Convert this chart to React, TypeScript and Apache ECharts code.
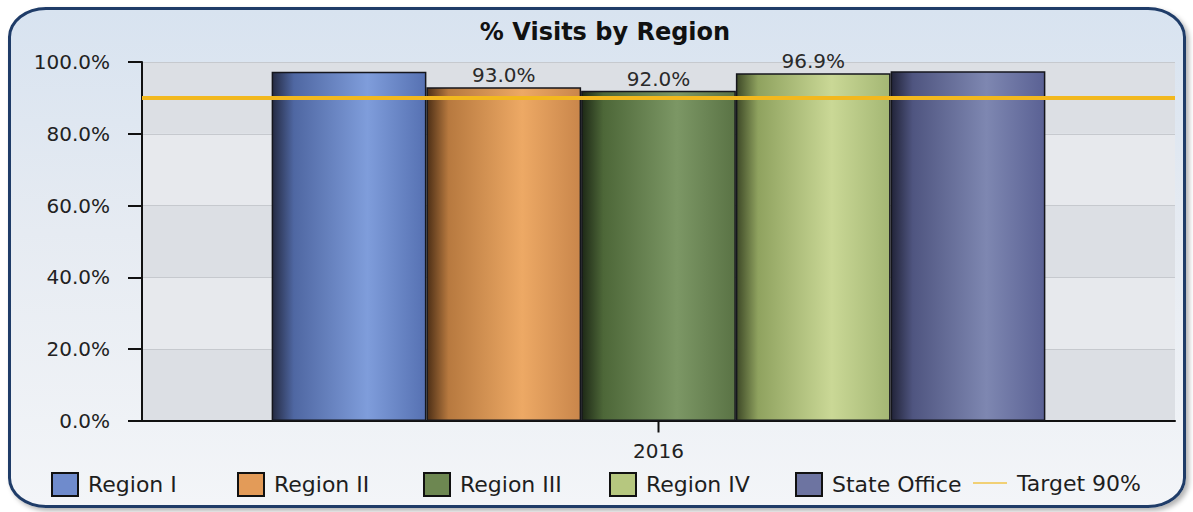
import React, { useEffect, useRef } from "react";
import * as echarts from "echarts";

// Chart data
const chartTitle = "% Visits by Region";
const categories = ["2016"];
const seriesNames = ["Region I", "Region II", "Region III", "Region IV", "State Office"];
const seriesValues = [97.3, 93.0, 92.0, 96.9, 97.4];
const labelledSeries = ["Region II", "Region III", "Region IV"];
const targetName = "Target 90%";
const targetValue = 90;
const yMin = 0;
const yMax = 100;
const yStep = 20;

// Cylinder-like shading per series: dark left edge, highlight right of centre
const palettes = [
  { dark: "#252b43", mid: "#4f67a2", light: "#7f9ddb", edge: "#5671b2", flat: "#6f8bcc" },
  { dark: "#4d2f16", mid: "#b7793f", light: "#eda965", edge: "#c9864b", flat: "#e39b58" },
  { dark: "#1e2916", mid: "#4d6738", light: "#7c9765", edge: "#5a7345", flat: "#6d8751" },
  { dark: "#3e4927", mid: "#8fa25f", light: "#cad896", edge: "#a4b774", flat: "#b6c77f" },
  { dark: "#222439", mid: "#4f5580", light: "#7e87b1", edge: "#5a6194", flat: "#6d74a1" },
];

const FONT = "DejaVu Sans";

function barGradient(p: { dark: string; mid: string; light: string; edge: string }) {
  return new echarts.graphic.LinearGradient(0, 0, 1, 0, [
    { offset: 0, color: p.dark },
    { offset: 0.14, color: p.mid },
    { offset: 0.62, color: p.light },
    { offset: 1, color: p.edge },
  ]);
}

export default function App() {
  const ref = useRef<HTMLDivElement>(null);

  useEffect(() => {
    document.body.style.margin = "0";
    if (!ref.current) return;
    const chart = echarts.init(ref.current, undefined, { renderer: "svg" });

    const barSeries = seriesNames.map((name, i) => ({
      name,
      type: "bar",
      data: [seriesValues[i]],
      barGap: "0%",
      barCategoryGap: "25.1%",
      itemStyle: {
        color: barGradient(palettes[i]),
        borderColor: "#15161c",
        borderWidth: 1.5,
      },
      label: {
        show: labelledSeries.includes(name),
        position: "top",
        distance: 2,
        formatter: (p: any) => `${Number(p.value).toFixed(1)}%`,
        fontFamily: FONT,
        fontSize: 20,
        color: "#2a2a2a",
      },
      z: 2,
    }));

    const targetSeries = {
      name: targetName,
      type: "line",
      data: [],
      symbol: "none",
      color: "#f3c546",
      lineStyle: { color: "#f3c546", width: 2 },
      z: 5,
      markLine: {
        silent: true,
        symbol: ["none", "none"],
        label: { show: false },
        lineStyle: { color: "#f2b81e", width: 4, type: "solid" },
        data: [{ yAxis: targetValue }],
      },
      // tick mark below the category centre on the x axis line
      markPoint: {
        silent: true,
        symbol: "rect",
        symbolSize: [2, 11],
        symbolOffset: [0, 6],
        itemStyle: { color: "#111" },
        label: { show: false },
        data: [{ coord: [categories[0], yMin] }],
      },
    };

    // One legend box per item, laid out on an even column pitch
    const firstTextX = 87;
    const pitch = 186;
    const legends: any[] = seriesNames.map((name, i) => ({
      data: [
        {
          name,
          icon: "rect",
          itemStyle: { color: palettes[i].flat, borderColor: "#111", borderWidth: 2 },
        },
      ],
      left: firstTextX + i * pitch - 36,
      top: 472,
      itemWidth: 26,
      itemHeight: 23,
      padding: 0,
      textStyle: { fontFamily: FONT, fontSize: 22, color: "#1e1e1e", padding: [0, 0, 0, 5] },
    }));
    legends.push({
      data: [{ name: targetName, icon: "path://M0,0H20V1H0Z", itemStyle: { color: "#f0c44a" } }],
      left: firstTextX + seriesNames.length * pitch - 44,
      top: 472,
      itemWidth: 34,
      itemHeight: 23,
      padding: 0,
      textStyle: { fontFamily: FONT, fontSize: 22, color: "#1e1e1e", padding: [0, 0, 0, 5] },
    });

    chart.setOption({
      animation: false,
      textStyle: { fontFamily: FONT },
      title: {
        text: chartTitle,
        left: 605,
        textAlign: "center",
        top: 20,
        padding: 0,
        textStyle: { fontFamily: FONT, fontSize: 24, fontWeight: "bold", color: "#111" },
      },
      legend: legends,
      grid: { left: 142, right: 18, top: 62, bottom: 91, containLabel: false },
      xAxis: {
        type: "category",
        data: categories,
        axisLine: { lineStyle: { color: "#111", width: 2 } },
        axisTick: { show: false },
        axisLabel: { fontFamily: FONT, fontSize: 20, color: "#222", margin: 20 },
      },
      yAxis: {
        type: "value",
        min: yMin,
        max: yMax,
        interval: yStep,
        axisLine: { show: true, lineStyle: { color: "#111", width: 2 } },
        axisTick: { show: true, length: 14, lineStyle: { color: "#111", width: 2 } },
        axisLabel: {
          fontFamily: FONT,
          fontSize: 20,
          color: "#222",
          margin: 32,
          formatter: (v: number) => `${v.toFixed(1)}%`,
        },
        splitLine: { show: true, lineStyle: { color: "#c6c9ce", width: 1 } },
        splitArea: { show: true, areaStyle: { color: ["#dcdfe4", "#e7e9ed"] } },
      },
      series: [...barSeries, targetSeries],
    });

    return () => chart.dispose();
  }, []);

  return (
    <div style={{ position: "relative", width: 1193, height: 512, background: "#fff" }}>
      <div
        style={{
          position: "absolute",
          left: 8,
          top: 7,
          width: 1178,
          height: 501,
          boxSizing: "border-box",
          border: "3px solid #1f3c68",
          borderRadius: "38px / 30px",
          background: "linear-gradient(to bottom, #d8e3f0 0%, #e6ebf2 45%, #f3f5f8 100%)",
          boxShadow: "3px 3px 5px rgba(0,0,0,0.3)",
        }}
      />
      <div ref={ref} style={{ position: "absolute", left: 0, top: 0, width: 1193, height: 512 }} />
    </div>
  );
}
